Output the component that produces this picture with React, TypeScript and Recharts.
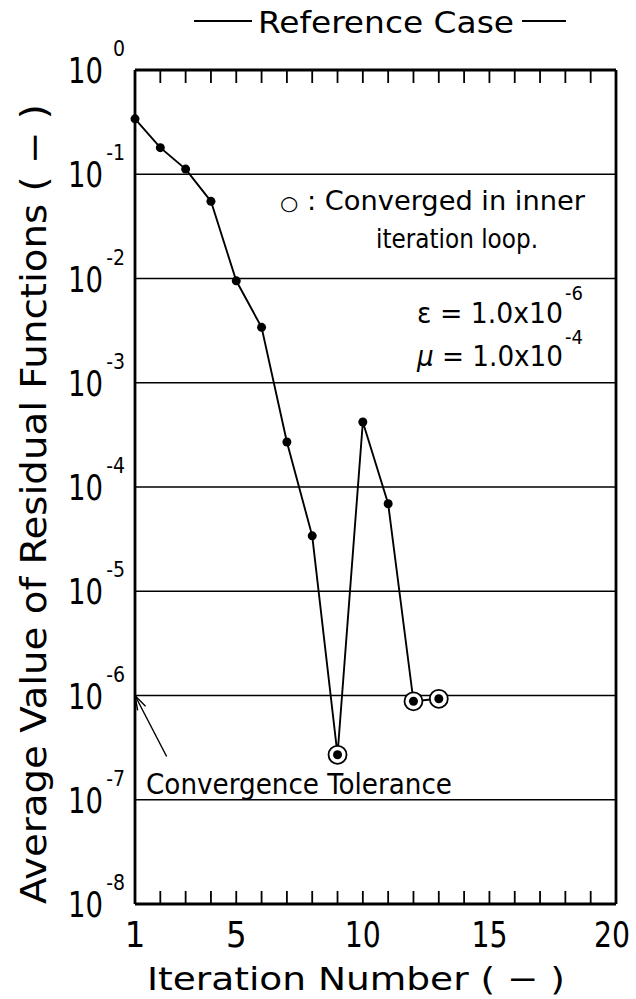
import React from "react";
import {
  LineChart,
  Line,
  XAxis,
  YAxis,
  CartesianGrid,
  ReferenceLine,
} from "recharts";

// values
const iterations = [1, 2, 3, 4, 5, 6, 7, 8, 9, 10, 11, 12, 13];
const residuals = [
  3.4e-1, 1.8e-1, 1.12e-1, 5.5e-2, 9.5e-3, 3.4e-3, 2.7e-4, 3.4e-5, 2.7e-7,
  4.2e-4, 6.9e-5, 8.8e-7, 9.3e-7,
];
const innerConverged = [9, 12, 13];

const xTicks = [1, 2, 3, 4, 5, 6, 7, 8, 9, 10, 11, 12, 13, 14, 15, 16, 17, 18, 19, 20];
const xLabels = [1, 5, 10, 15, 20];
const yTicks = [1, 1e-1, 1e-2, 1e-3, 1e-4, 1e-5, 1e-6, 1e-7, 1e-8];

const tolerance = 1e-6;
const arrowTail = { x: 2.25, y: 2.6e-7 };

const data = iterations.map((it, i) => ({
  it,
  residual: residuals[i],
  inner: innerConverged.includes(it),
}));

const FONT = "'DejaVu Sans Condensed', 'Liberation Sans Narrow', 'Roboto', sans-serif";
const W = 636;
const H = 999;
// frame of the plot area
const LEFT = 135;
const RIGHT = 616;
const TOP = 70;
const BOTTOM = 904;
const xMin = xTicks[0];
const xMax = xTicks[xTicks.length - 1];
const yMin = yTicks[yTicks.length - 1];
const yMax = yTicks[0];

const Marker = (props: any) => {
  const { cx, cy, payload } = props;
  if (cx == null || cy == null) return null;
  return (
    <g>
      {payload.inner && (
        <circle cx={cx} cy={cy} r={9} fill="#fff" stroke="#000" strokeWidth={1.8} />
      )}
      <circle cx={cx} cy={cy} r={4.5} fill="#000" />
    </g>
  );
};

const BottomTick = (props: any) => {
  const { x, y, payload } = props;
  const wide = String(payload.value).length > 1;
  const last = payload.value === xLabels[xLabels.length - 1];
  return (
    <text
      x={last ? x - 4 : x}
      y={y + 43}
      textAnchor="middle"
      fontSize={36}
      fontFamily={FONT}
      fill="#000"
      {...(wide ? { textLength: 36, lengthAdjust: "spacingAndGlyphs" } : {})}
    >
      {payload.value}
    </text>
  );
};

const YTick = (props: any) => {
  const { x, y, payload } = props;
  const exp = Math.round(Math.log10(payload.value));
  return (
    <g fontFamily={FONT} fill="#000">
      <text
        x={x - 67}
        y={y + 13}
        fontSize={36}
        textLength={35}
        lengthAdjust="spacingAndGlyphs"
      >
        10
      </text>
      <text x={x - 10} y={y - 14} textAnchor="end" fontSize={21}>
        {exp === 0 ? "0" : `-${-exp}`}
      </text>
    </g>
  );
};

const Arrow = (props: any) => {
  const { x1, y1, x2, y2 } = props;
  const a = Math.atan2(y2 - y1, x2 - x1);
  const len = 15;
  const spread = 0.3;
  const p1 = [x2 - len * Math.cos(a - spread), y2 - len * Math.sin(a - spread)];
  const p2 = [x2 - len * Math.cos(a + spread), y2 - len * Math.sin(a + spread)];
  return (
    <g stroke="#000" strokeWidth={1.4} fill="none">
      <line x1={x1} y1={y1} x2={x2} y2={y2} />
      <polyline points={`${p1[0]},${p1[1]} ${x2},${y2} ${p2[0]},${p2[1]}`} />
    </g>
  );
};

// inward ticks on the top and bottom of the frame, one per iteration
const frameTickPath = xTicks
  .slice(1, -1)
  .map((t) => {
    const px = LEFT + ((t - xMin) / (xMax - xMin)) * (RIGHT - LEFT);
    return `M${px},${BOTTOM}V${BOTTOM - 13}M${px},${TOP}V${TOP + 13}`;
  })
  .join("");

export default function App() {
  return (
    <div style={{ position: "absolute", left: 0, top: 0, width: W, height: H, background: "#fff" }}>
      <LineChart
        width={W}
        height={H}
        data={data}
        margin={{ top: 0, right: W - RIGHT - 1, bottom: 0, left: 0 }}
      >
        <CartesianGrid vertical={false} stroke="#000" strokeWidth={1.6} />
        <XAxis
          dataKey="it"
          type="number"
          domain={[xMin, xMax]}
          ticks={xLabels}
          interval={0}
          height={H - BOTTOM}
          tickSize={0}
          tickMargin={0}
          tickLine={false}
          axisLine={{ stroke: "#000", strokeWidth: 2.8 }}
          tick={<BottomTick />}
        />
        <XAxis
          xAxisId="top"
          orientation="top"
          dataKey="it"
          type="number"
          domain={[xMin, xMax]}
          height={TOP}
          tick={false}
          tickLine={false}
          axisLine={{ stroke: "#000", strokeWidth: 2.8 }}
        />
        <YAxis
          type="number"
          scale="log"
          domain={[yMin, yMax]}
          ticks={yTicks}
          interval={0}
          allowDataOverflow
          width={LEFT}
          tickSize={0}
          tickMargin={0}
          tickLine={false}
          axisLine={{ stroke: "#000", strokeWidth: 2.8 }}
          tick={<YTick />}
        />
        <YAxis
          yAxisId="right"
          orientation="right"
          type="number"
          scale="log"
          domain={[yMin, yMax]}
          allowDataOverflow
          width={1}
          tick={false}
          tickLine={false}
          axisLine={{ stroke: "#000", strokeWidth: 2.8 }}
        />
        <ReferenceLine
          segment={[
            { x: arrowTail.x, y: arrowTail.y },
            { x: 1, y: tolerance },
          ]}
          shape={<Arrow />}
        />
        <Line
          type="linear"
          dataKey="residual"
          stroke="#000"
          strokeWidth={1.9}
          dot={<Marker />}
          isAnimationActive={false}
        />
      </LineChart>

      <svg
        width={W}
        height={H}
        style={{ position: "absolute", left: 0, top: 0, pointerEvents: "none" }}
        fontFamily={FONT}
        fill="#000"
      >
        <path d={frameTickPath} stroke="#000" strokeWidth={1.8} fill="none" />

        {/* title */}
        <line x1={194} y1={21} x2={252} y2={21} stroke="#000" strokeWidth={2} />
        <text x={258} y={33} fontSize={30} textLength={256} lengthAdjust="spacingAndGlyphs">
          Reference Case
        </text>
        <line x1={522} y1={21} x2={566} y2={21} stroke="#000" strokeWidth={2} />

        {/* axis titles */}
        <text
          transform="translate(46,504) rotate(-90)"
          textAnchor="middle"
          fontSize={35}
          textLength={800}
          lengthAdjust="spacingAndGlyphs"
        >
          Average Value of Residual Functions ( − )
        </text>
        <text x={147} y={990} fontSize={32} textLength={418} lengthAdjust="spacingAndGlyphs">
          Iteration Number ( − )
        </text>

        {/* notes */}
        <text x={280} y={210} fontSize={26} textLength={305} lengthAdjust="spacingAndGlyphs">
          <tspan fontSize={20}>○</tspan> : Converged in inner
        </text>
        <text x={376} y={248} fontSize={26} textLength={162} lengthAdjust="spacingAndGlyphs">
          iteration loop.
        </text>
        <text x={417} y={323} fontSize={29} textLength={146} lengthAdjust="spacingAndGlyphs">
          ε = 1.0x10
        </text>
        <text x={565} y={300} fontSize={20}>
          -6
        </text>
        <text x={417} y={366} fontSize={29} textLength={146} lengthAdjust="spacingAndGlyphs">
          <tspan fontStyle="italic">μ</tspan> = 1.0x10
        </text>
        <text x={565} y={344} fontSize={20}>
          -4
        </text>
        <text x={146} y={794} fontSize={29} textLength={306} lengthAdjust="spacingAndGlyphs">
          Convergence Tolerance
        </text>
      </svg>
    </div>
  );
}
